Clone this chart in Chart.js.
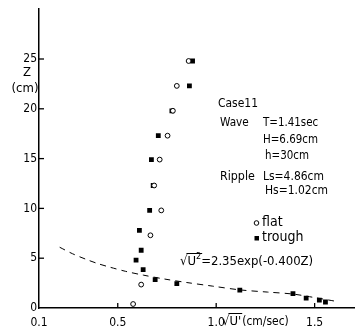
<!DOCTYPE html>
<html>
<head>
<meta charset="utf-8">
<script src="https://cdn.jsdelivr.net/npm/chart.js@4/dist/chart.umd.min.js"></script>
<style>
html,body{margin:0;padding:0;background:#fff;}
#wrap{width:364px;height:335px;}
</style>
</head>
<body>
<div id="wrap"><canvas id="c" width="364" height="335"></canvas></div>
<script>
// ---- data ----
const flatU = [0.86, 0.80, 0.78, 0.753, 0.713, 0.685, 0.721, 0.666, 0.619, 0.578];
const flatZ = [24.8, 22.3, 19.8, 17.3, 14.9, 12.3, 9.8, 7.3, 2.35, 0.4];
const troughU = [0.88, 0.864, 0.775, 0.706, 0.671, 0.68, 0.662, 0.61, 0.619, 0.593, 0.629, 0.69, 0.80, 1.12, 1.39, 1.457, 1.524, 1.555];
const troughZ = [24.8, 22.3, 19.8, 17.3, 14.9, 12.3, 9.8, 7.8, 5.8, 4.8, 3.85, 2.85, 2.45, 1.8, 1.45, 1.0, 0.8, 0.6];
const fitU = [0.205, 0.27, 0.34, 0.40, 0.46, 0.54, 0.63, 0.74, 0.85, 0.98, 1.12, 1.26, 1.39, 1.49, 1.60];
const fitZ = [6.1, 5.45, 4.88, 4.45, 4.1, 3.68, 3.3, 2.9, 2.56, 2.2, 1.82, 1.6, 1.4, 1.08, 0.7];
const xTicks = [0.1, 0.5, 1.0, 1.5];
const xTickLabels = ["0.1", "0.5", "1.0", "1.5"];
const yTicks = [0, 5, 10, 15, 20, 25];
const yTickLabels = ["0", "5", "10", "15", "20", "25"];
const caseLabel = "Case11";
const waveLabel = "Wave";
const waveParams = ["T=1.41sec", "H=6.69cm", "h=30cm"];
const rippleLabel = "Ripple";
const rippleParams = ["Ls=4.86cm", "Hs=1.02cm"];
const legendLabels = ["flat", "trough"];
const formulaText = "2.35exp(-0.400Z)";
const xTitle = "(cm/sec)";

const FONT = "'Liberation Sans Narrow','DejaVu Sans Condensed','Liberation Sans',sans-serif";

function pts(xs, ys){ return xs.map((x,i)=>({x:x, y:ys[i]})); }

// draw text horizontally condensed by factor sx, starting at x
function textC(ctx, s, x, y, sx){
  ctx.save();
  ctx.translate(x, y);
  ctx.scale(sx, 1);
  ctx.fillText(s, 0, 0);
  const w = ctx.measureText(s).width * sx;
  ctx.restore();
  return w;
}

const overlay = {
  id:'overlay',
  afterDraw(chart){
    const ctx = chart.ctx;
    const xs = chart.scales.x, ys = chart.scales.y;
    const ca = chart.chartArea;
    ctx.save();
    ctx.strokeStyle = '#000';
    ctx.fillStyle = '#000';
    ctx.lineWidth = 1.3;
    // inward tick marks
    yTicks.forEach(v=>{
      if (v===0) return;
      const p = ys.getPixelForValue(v);
      ctx.beginPath(); ctx.moveTo(ca.left-1, p); ctx.lineTo(ca.left+5, p); ctx.stroke();
    });
    xTicks.forEach(v=>{
      if (v===xs.min) return;
      const p = xs.getPixelForValue(v);
      ctx.beginPath(); ctx.moveTo(p, ca.bottom); ctx.lineTo(p, ca.bottom-5); ctx.stroke();
    });
    ctx.textBaseline = 'middle';
    ctx.font = '13px ' + FONT;
    // y axis title
    ctx.textAlign = 'center';
    ctx.fillText('Z', 27, 73);
    ctx.fillText('(cm)', 25, 89);
    // annotations
    ctx.textAlign = 'left';
    const SX = 0.88;
    textC(ctx, caseLabel, 218, 104, 0.92);
    textC(ctx, waveLabel, 220, 123, 0.9);
    textC(ctx, waveParams[0], 263, 123, SX);
    textC(ctx, waveParams[1], 263, 140, SX);
    textC(ctx, waveParams[2], 265, 156, SX);
    textC(ctx, rippleLabel, 220, 177, 0.95);
    textC(ctx, rippleParams[0], 263, 177, 0.92);
    textC(ctx, rippleParams[1], 265, 191, 0.92);
    // legend
    ctx.lineWidth = 1;
    ctx.beginPath(); ctx.arc(256.5, 223, 2.3, 0, Math.PI*2); ctx.stroke();
    ctx.fillRect(254.5, 236, 4.5, 4.5);
    ctx.font = '14px ' + FONT;
    ctx.fillText(legendLabels[0], 262, 222);
    ctx.fillText(legendLabels[1], 262, 237);
    // formula: sqrt(U^2)=...
    ctx.font = '13px ' + FONT;
    ctx.fillText('\u221AU', 180, 262);
    const w1 = ctx.measureText('\u221AU').width;
    ctx.font = '9px ' + FONT;
    ctx.fillText('2', 180 + w1, 257);
    const w2 = ctx.measureText('2').width;
    ctx.font = '13px ' + FONT;
    const sqw = ctx.measureText('\u221A').width;
    ctx.lineWidth = 1;
    ctx.beginPath(); ctx.moveTo(180 + sqw - 1, 253.5); ctx.lineTo(180 + w1 + w2 + 1, 253.5); ctx.stroke();
    ctx.fillText('=' + formulaText, 180 + w1 + w2, 262);
    // x axis title
    const tx = 222;
    ctx.fillText("\u221AU'", tx, 322);
    const w3 = ctx.measureText("\u221AU'").width;
    ctx.beginPath(); ctx.moveTo(tx + sqw - 1, 313.5); ctx.lineTo(tx + w3 + 1, 313.5); ctx.stroke();
    textC(ctx, xTitle, tx + w3 + 1, 322, 0.92);
    ctx.restore();
  }
};

new Chart(document.getElementById('c'), {
  type: 'scatter',
  data: {
    datasets: [
      {
        label: 'fit',
        data: pts(fitU, fitZ),
        showLine: true,
        borderColor: '#000',
        borderWidth: 1,
        borderDash: [6, 5],
        pointRadius: 0,
        fill: false,
        tension: 0.3
      },
      {
        label: legendLabels[0],
        data: pts(flatU, flatZ),
        pointStyle: 'circle',
        pointRadius: 2.4,
        pointBorderWidth: 1,
        pointBackgroundColor: '#fff',
        pointBorderColor: '#000'
      },
      {
        label: legendLabels[1],
        data: pts(troughU, troughZ),
        pointStyle: 'rect',
        pointRadius: 3.4,
        pointBorderWidth: 0,
        pointBackgroundColor: '#000',
        pointBorderColor: '#000'
      }
    ]
  },
  options: {
    responsive: false,
    animation: false,
    devicePixelRatio: 1,
    layout: { padding: { top: 7, right: 10, left: 0, bottom: 0 } },
    plugins: { legend: { display: false }, tooltip: { enabled: false } },
    scales: {
      x: {
        type: 'linear',
        min: 0.1, max: 1.7,
        afterBuildTicks: s => { s.ticks = xTicks.map(v => ({ value: v })); },
        afterFit: s => { s.height = 27; },
        grid: { display: false, drawTicks: false },
        border: { display: true, color: '#000', width: 1.5 },
        ticks: {
          padding: 8, color: '#000', maxRotation: 0, autoSkip: false,
          font: { family: FONT, size: 12 },
          callback: (v) => { const i = xTicks.indexOf(v); return i >= 0 ? xTickLabels[i] : ''; }
        }
      },
      y: {
        type: 'linear',
        min: 0, max: 30,
        afterBuildTicks: s => { s.ticks = yTicks.map(v => ({ value: v })); },
        afterFit: s => { s.width = 39; },
        grid: { display: false, drawTicks: false },
        border: { display: true, color: '#000', width: 1.5 },
        ticks: {
          padding: 2, color: '#000', autoSkip: false,
          font: { family: FONT, size: 12 },
          callback: (v) => { const i = yTicks.indexOf(v); return i >= 0 ? yTickLabels[i] : ''; }
        }
      }
    }
  },
  plugins: [overlay]
});
</script>
</body>
</html>
